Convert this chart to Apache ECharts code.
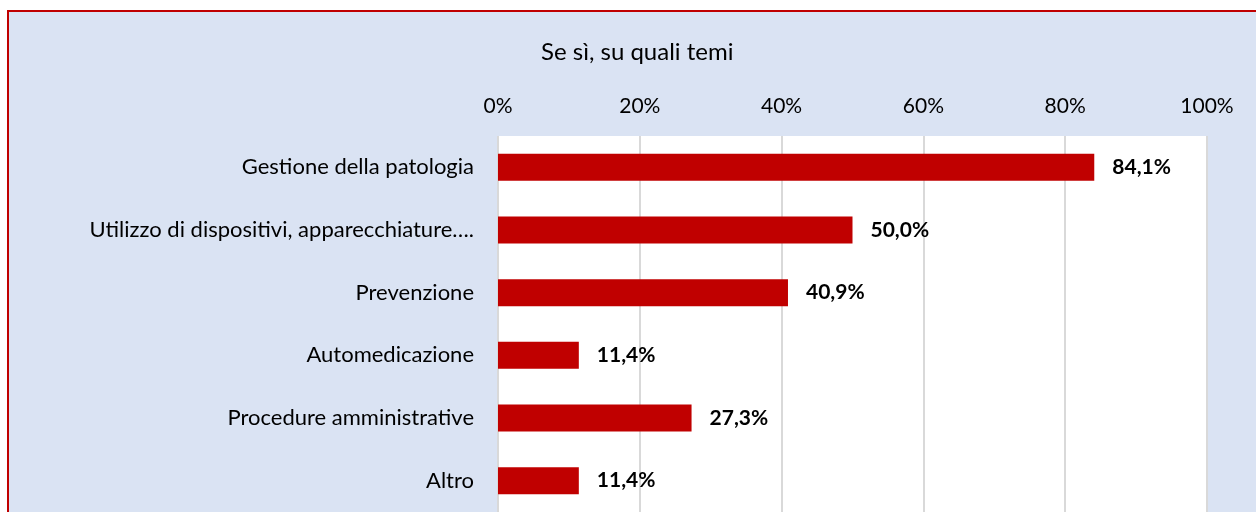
<!DOCTYPE html>
<html>
<head>
<meta charset="utf-8">
<script src="https://cdn.jsdelivr.net/npm/echarts@6/dist/echarts.min.js"></script>
<style>
    html, body { margin: 0; padding: 0; background: #fff; }
    #chart { width: 1256px; height: 512px; }
</style>
</head>
<body>
<div id="chart"></div>
<script>
'use strict';

// categorie (asse verticale)
let categories = ['Gestione della patologia', 'Utilizzo di dispositivi, apparecchiature….',
    'Prevenzione', 'Automedicazione', 'Procedure amministrative', 'Altro'];
// percentuali
let values = [0.841, 0.500, 0.409, 0.114, 0.273, 0.114];

let myChart = echarts.init(document.getElementById('chart'));

function pct(v, dec) {
    return (v * 100).toFixed(dec).replace('.', ',') + '%';
}

let option = {
    animation: false,
    textStyle: {fontFamily: 'Lato'},
    graphic: [{
        type: 'rect',
        z: -10,
        shape: {x: 8, y: 11, width: 1300, height: 600},
        style: {fill: '#dae3f3', stroke: '#c00000', lineWidth: 2}
    }],
    title: {
        text: 'Se sì, su quali temi',
        left: 536,
        top: 35,
        textStyle: {fontFamily: 'Lato', fontSize: 24, fontWeight: 'normal', color: '#000'}
    },
    grid: {
        left: 498,
        right: 49,
        top: 136,
        bottom: -3,
        show: true,
        backgroundColor: '#fff',
        borderWidth: 0
    },
    xAxis: {
        type: 'value',
        position: 'top',
        min: 0,
        max: 1,
        interval: 0.2,
        axisLine: {show: false},
        axisTick: {show: false},
        axisLabel: {
            margin: 19,
            fontSize: 21,
            color: '#000',
            formatter: function (v) {
                return Math.round(v * 100) + '%';
            }
        },
        splitLine: {lineStyle: {color: '#d9d9d9', width: 2}}
    },
    yAxis: {
        type: 'category',
        inverse: true,
        data: categories,
        axisLine: {show: false},
        axisTick: {show: false},
        axisLabel: {margin: 24, fontSize: 22, color: '#000'}
    },
    series: [{
        type: 'bar',
        data: values,
        barWidth: 27,
        itemStyle: {color: '#c00000'},
        label: {
            show: true,
            position: 'right',
            distance: 18,
            fontSize: 21,
            fontWeight: 'bold',
            color: '#000',
            formatter: function (p) {
                return pct(p.value, 1);
            }
        }
    }]
};

myChart.setOption(option);
</script>
</body>
</html>
